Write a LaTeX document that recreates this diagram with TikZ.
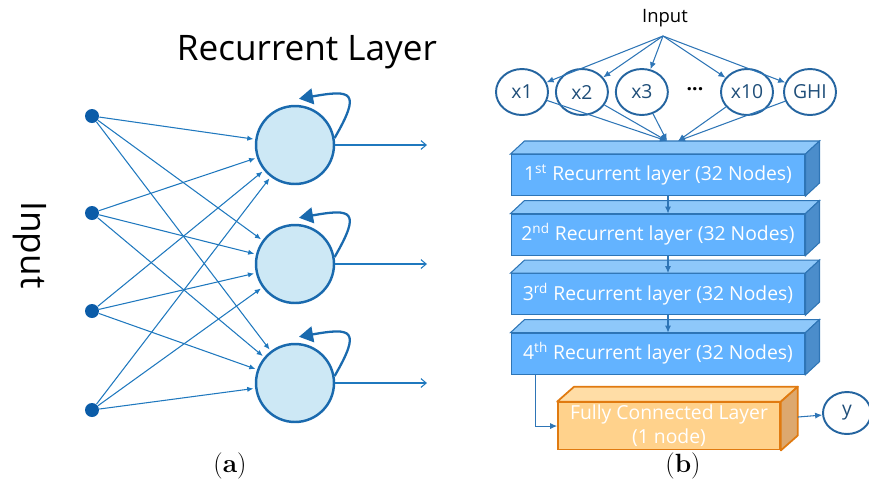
\documentclass[tikz,border=0pt]{standalone}
\usepackage{fontspec}
\setsansfont{Open Sans}
\usetikzlibrary{positioning, arrows.meta, calc, shapes.geometric}
\definecolor{rnnLine}{HTML}{1F78BE}
\definecolor{rnnDot}{HTML}{0B5CA8}
\definecolor{rnnCell}{HTML}{CDE8F5}
\definecolor{rnnEdge}{HTML}{1A6AAE}
\definecolor{layFront}{HTML}{63B3FF}
\definecolor{layTop}{HTML}{8EC8FA}
\definecolor{laySide}{HTML}{4B8DCB}
\definecolor{layEdge}{HTML}{2E75B6}
\definecolor{fcFront}{HTML}{FFD28C}
\definecolor{fcTop}{HTML}{FFDDA6}
\definecolor{fcSide}{HTML}{DDA86E}
\definecolor{fcEdge}{HTML}{E07A10}
\definecolor{featEdge}{HTML}{2565A0}
\definecolor{featText}{HTML}{1F4E79}

\begin{document}
\begin{tikzpicture}[
        x=0.02cm, y=-0.02cm,
        font=\sffamily,
        inDot/.style={circle, fill=rnnDot, minimum size=0.28cm, inner sep=0pt},
        cell/.style={
          circle, draw=rnnEdge, line width=1.4pt,
          fill=rnnCell, minimum size=1.56cm, inner sep=0pt
        },
        synapse/.style={-{Latex[length=3.5pt,width=3pt]}, line width=0.6pt, color=rnnLine, shorten >=1pt},
        selfLoop/.style={-{Triangle[length=8pt,width=9pt]}, line width=1.3pt, color=rnnEdge},
        outArr/.style={-{Straight Barb[length=3pt,width=5pt]}, line width=0.6pt, color=rnnLine},
        feat/.style={
          ellipse, draw=featEdge, line width=1.1pt,
          minimum width=1.04cm, minimum height=0.92cm, inner sep=0pt,
          text=featText, font=\sffamily\fontsize{11}{13}\selectfont
        },
        layer/.style={
          rectangle, draw=layEdge, line width=0.6pt, fill=layFront,
          minimum width=5.88cm, minimum height=0.82cm, inner sep=0pt,
          text=white, font=\sffamily\fontsize{11}{13}\selectfont
        },
        fcLayer/.style={
          rectangle, draw=fcEdge, line width=1pt, fill=fcFront,
          minimum width=4.44cm, minimum height=0.94cm, inner sep=0pt,
          align=center, text=white, font=\sffamily\fontsize{11}{13.6}\selectfont
        },
        arr/.style={-{Latex[length=4pt,width=3.5pt]}, line width=0.6pt, color=layEdge}
      ]
      \useasboundingbox (0,0) rectangle (869,495);

      % (a) recurrent layer
      \node[font=\sffamily\fontsize{20}{24}\selectfont] (title) at (307,52) {Recurrent Layer};
      \node[rotate=-90, font=\sffamily\fontsize{20}{24}\selectfont] (inLeft) at (30,245) {Input};

      \node[inDot] (i1) at (92,116) {};
      \node[inDot] (i2) at (92,213) {};
      \node[inDot] (i3) at (92,311) {};
      \node[inDot] (i4) at (92,410) {};

      \node[cell] (n1) at (295,145) {};
      \node[cell] (n2) at (295,264) {};
      \node[cell] (n3) at (295,383) {};

      \coordinate (o1) at (427,145);
      \coordinate (o2) at (427,264);
      \coordinate (o3) at (427,383);

      \foreach \i in {1,...,4}
        \foreach \j in {1,2,3}
          \draw[synapse] (i\i) -- (n\j);

      \foreach \j in {1,2,3} {
        \draw[selfLoop] (n\j.10) to[out=60, in=10, looseness=2.6] ($(n\j.north)+(4,-6)$);
        \draw[outArr] (n\j) -- (o\j);
      }

      \node[font=\rmfamily\fontsize{15}{18}\selectfont] (capA) at (230,466) {(\textbf{a})};

      % (b) stacked network
      \node[font=\sffamily\fontsize{10.5}{12}\selectfont] (inTop) at (665,18) {Input};
      \coordinate (hub) at (663,36);

      \node[feat] (x1) at (522,92) {x1};
      \node[feat, right=0.12cm of x1] (x2) {x2};
      \node[feat, right=0.12cm of x2] (x3) {x3};
      \node[font=\sffamily\fontsize{11}{13}\selectfont] (dots) at (695,92) {\raisebox{0.3em}{\textbf{...}}};
      \node[feat] (x10) at (747,92) {x10};
      \node[feat] (ghi) at (810,92) {GHI};

      \node[layer] (r1) at (658,175) {1\textsuperscript{st} Recurrent layer (32 Nodes)};
      \node[layer, below=0.35cm of r1] (r2) {2\textsuperscript{nd} Recurrent layer (32 Nodes)};
      \node[layer, below=0.35cm of r2] (r3) {3\textsuperscript{rd} Recurrent layer (32 Nodes)};
      \node[layer, below=0.35cm of r3] (r4) {4\textsuperscript{th} Recurrent layer (32 Nodes)};

      \foreach \b in {r1,r2,r3,r4} {
        \filldraw[fill=layTop, draw=layEdge, line width=0.6pt]
          (\b.north west) -- ++(14,-13) -- ($(\b.north east)+(14,-13)$) -- (\b.north east) -- cycle;
        \filldraw[fill=laySide, draw=layEdge, line width=0.6pt]
          (\b.north east) -- ++(14,-13) -- ($(\b.south east)+(14,-13)$) -- (\b.south east) -- cycle;
      }

      \node[fcLayer, below=0.54cm of r4, xshift=0.22cm] (fc) {Fully Connected Layer\\(1 node)};
      \filldraw[fill=fcTop, draw=fcEdge, line width=1pt, line join=round]
        (fc.north west) -- ++(17,-15) -- ($(fc.north east)+(17,-15)$) -- (fc.north east) -- cycle;
      \filldraw[fill=fcSide, draw=fcEdge, line width=1pt, line join=round]
        (fc.north east) -- ++(17,-15) -- ($(fc.south east)+(17,-15)$) -- (fc.south east) -- cycle;

      \node[feat, minimum width=0.96cm, minimum height=0.84cm] (yOut) at (847,413) {y};

      \coordinate (mergeL) at ($(r1.north)+(9,-13)$);
      \coordinate (mergeR) at ($(r1.north)+(20,-13)$);

      % connections
      \foreach \f in {x1,x2,x3,x10,ghi}
        \draw[arr] (hub) -- (\f);
      \foreach \f in {x1,x2,x3}
        \draw[arr] (\f) -- (mergeL);
      \foreach \f in {x10,ghi}
        \draw[arr] (\f) -- (mergeR);

      \draw[arr] ($(r1.south)+(10,0)$) -- ($(r2.north)+(10,0)$);
      \draw[arr] ($(r2.south)+(10,0)$) -- ($(r3.north)+(10,0)$);
      \draw[arr] ($(r3.south)+(10,0)$) -- ($(r4.north)+(10,0)$);
      \draw[arr] ($(r4.south west)+(25,0)$) |- (fc.west);
      \draw[arr] ($(fc.east)+(17,-9)$) -- (yOut);

      \node[font=\rmfamily\fontsize{15}{18}\selectfont] (capB) at (683,466) {(\textbf{b})};

    \end{tikzpicture}
\end{document}
